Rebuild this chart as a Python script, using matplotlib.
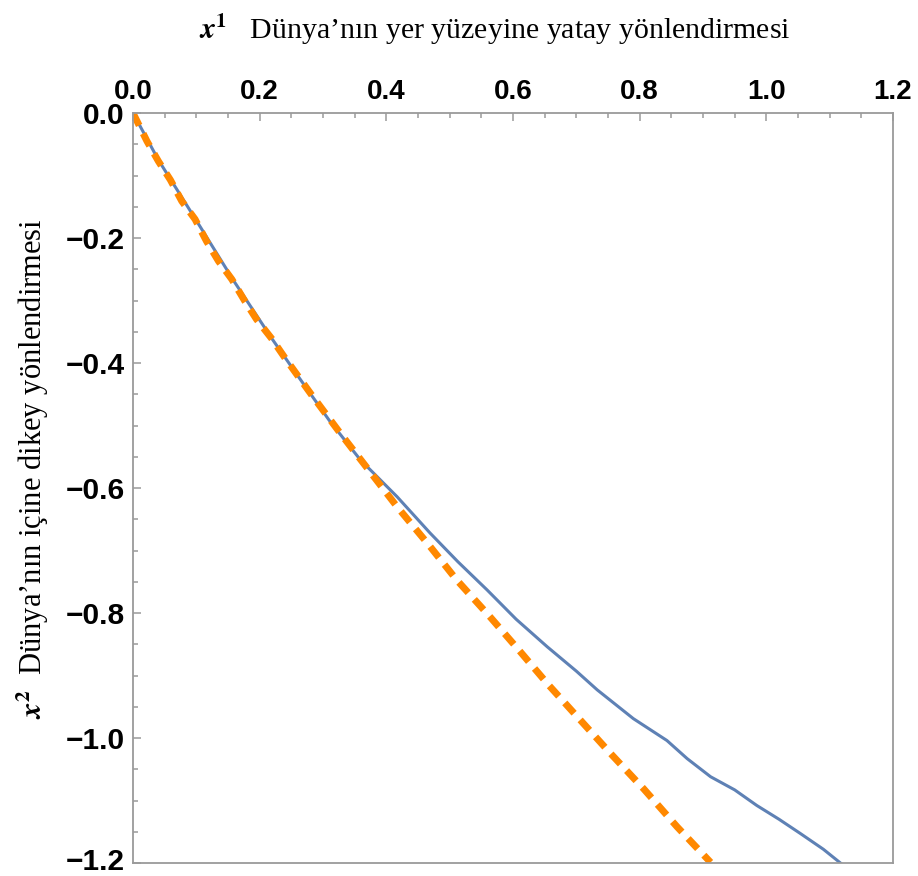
import matplotlib
matplotlib.use("Agg")
import matplotlib.pyplot as plt
from matplotlib.ticker import MultipleLocator
from matplotlib.transforms import ScaledTranslation

# Trajectory (solid blue) and reference curve (dashed orange)
blue_x = [0.0, 0.040, 0.100, 0.160, 0.220, 0.264, 0.310, 0.359, 0.417, 0.469,
          0.513, 0.559, 0.605, 0.654, 0.700, 0.733, 0.790, 0.843, 0.875, 0.912,
          0.950, 0.985, 1.020, 1.054, 1.090, 1.117]
blue_y = [0.0, -0.075, -0.172, -0.270, -0.362, -0.426, -0.492, -0.555, -0.614, -0.672,
          -0.718, -0.763, -0.810, -0.854, -0.893, -0.923, -0.969, -1.004, -1.033, -1.062,
          -1.083, -1.108, -1.130, -1.153, -1.178, -1.200]

orange_x = [0.0, 0.022, 0.040, 0.059, 0.077, 0.098, 0.116, 0.135, 0.156, 0.176,
            0.195, 0.219, 0.240, 0.282, 0.327, 0.372, 0.417, 0.467, 0.511, 0.561,
            0.609, 0.656, 0.706, 0.757, 0.806, 0.859, 0.912]
orange_y = [0.0, -0.045, -0.077, -0.107, -0.141, -0.170, -0.205, -0.237, -0.266, -0.300,
            -0.330, -0.361, -0.392, -0.451, -0.512, -0.571, -0.630, -0.691, -0.747, -0.803,
            -0.859, -0.915, -0.971, -1.028, -1.081, -1.142, -1.199]

x_ticks = [0.0, 0.2, 0.4, 0.6, 0.8, 1.0, 1.2]
y_ticks = [0.0, -0.2, -0.4, -0.6, -0.8, -1.0, -1.2]
x_tick_labels = ["0.0", "0.2", "0.4", "0.6", "0.8", "1.0", "1.2"]
y_tick_labels = ["0.0", "\u22120.2", "\u22120.4", "\u22120.6", "\u22120.8", "\u22121.0", "\u22121.2"]

x_title = "Dünya\u2019nın yer yüzeyine yatay yönlendirmesi"
y_title = "Dünya\u2019nın içine dikey yönlendirmesi"

plt.rcParams["mathtext.fontset"] = "stix"

W, H = 918, 876
fig = plt.figure(figsize=(W / 100, H / 100), dpi=100)
ax = fig.add_axes([133 / W, (H - 863) / H, 760 / W, 750 / H])

ax.plot(blue_x, blue_y, color="#5E81B5", lw=2.2, solid_joinstyle="round")
ax.plot(orange_x, orange_y, color="#FF8800", lw=5.0, dashes=(2.0, 1.3),
        dash_capstyle="butt")

ax.set_xlim(0, 1.2)
ax.set_ylim(-1.2, 0)

ax.xaxis.tick_top()
ax.set_xticks(x_ticks)
ax.set_xticklabels(x_tick_labels)
ax.set_yticks(y_ticks)
ax.set_yticklabels(y_tick_labels)
ax.xaxis.set_minor_locator(MultipleLocator(0.05))
ax.yaxis.set_minor_locator(MultipleLocator(0.05))

frame_gray = "#9a9a9a"
ax.tick_params(which="both", direction="in", color=frame_gray,
               top=True, bottom=False, left=True, right=False,
               labeltop=True, labelbottom=False, labelleft=True)
ax.tick_params(which="major", length=6, width=1.1, pad=6)
ax.tick_params(which="minor", length=3.5, width=1.1)
for lab in ax.get_xticklabels():
    lab.set_fontfamily("Liberation Sans")
    lab.set_fontweight("bold")
    lab.set_fontsize(20)
for lab in ax.get_yticklabels():
    lab.set_fontfamily("Liberation Sans")
    lab.set_fontweight("bold")
    lab.set_fontsize(21.5)
# keep the lowest y label inside the canvas
last = ax.get_yticklabels()[-1]
last.set_transform(last.get_transform() + ScaledTranslation(0, 3 / 72, fig.dpi_scale_trans))
for sp in ax.spines.values():
    sp.set_color(frame_gray)
    sp.set_linewidth(1.3)

fig.text(495 / W, 1 - 30 / H, r"$\boldsymbol{x}^{\mathbf{1}}$   " + x_title,
         family="Liberation Serif", fontsize=21.5, ha="center", va="center")
fig.text(33 / W, 1 - 469 / H, r"$\boldsymbol{x}^{\mathbf{2}}$  " + y_title,
         family="Liberation Serif", fontsize=22, ha="center", va="center",
         rotation=90)

fig.savefig("out.png", dpi=100)
